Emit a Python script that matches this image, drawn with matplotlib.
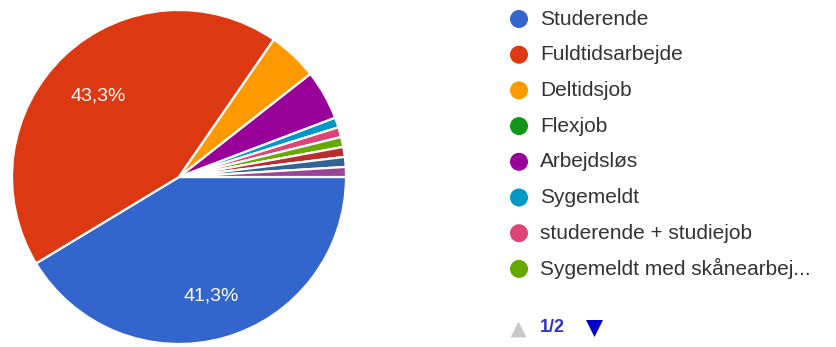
import matplotlib
matplotlib.use("Agg")
import matplotlib.pyplot as plt
from matplotlib.patches import Circle
from matplotlib.transforms import offset_copy

# Survey answers: occupation (response counts)
categories = [
    "Studerende",
    "Fuldtidsarbejde",
    "Deltidsjob",
    "Flexjob",
    "Arbejdsløs",
    "Sygemeldt",
    "studerende + studiejob",
    "Sygemeldt med skånearbej...",
    "Selvstændig",
    "Pensionist",
    "Andet",
]
counts = [43, 45, 5, 0, 5, 1, 1, 1, 1, 1, 1]
colors = [
    "#3366cc", "#dc3912", "#ff9900", "#109618", "#990099",
    "#0099c6", "#dd4477", "#66aa00", "#b82e2e", "#316395", "#994499",
]
legend_page = "1/2"
legend_rows = 8

plt.rcParams["font.family"] = ["Liberation Sans", "DejaVu Sans"]

W, H = 836, 347
fig = plt.figure(figsize=(W / 100, H / 100), dpi=100)

# Pie area
cx, cy, r = 179, 177, 167
ax = fig.add_axes([(cx - r) / W, (H - cy - r) / H, 2 * r / W, 2 * r / H])


def pct_label(p):
    return f"{p:.1f}%".replace(".", ",") if p >= 10 else ""


wedges, _, autotexts = ax.pie(
    counts,
    colors=colors,
    startangle=0,
    counterclock=False,
    radius=1.0,
    autopct=pct_label,
    pctdistance=0.71,
    wedgeprops=dict(edgecolor="white", linewidth=1.6),
    textprops=dict(color="white", fontsize=14),
)
for t in autotexts:
    t.set_transform(offset_copy(t.get_transform(), fig=fig, x=0, y=-5, units="dots"))
ax.set_xlim(-1.0, 1.0)
ax.set_ylim(-1.0, 1.0)
ax.set_aspect("equal")
ax.axis("off")

# Legend drawn in pixel coordinates
lax = fig.add_axes([0, 0, 1, 1])
lax.set_xlim(0, W)
lax.set_ylim(H, 0)
lax.axis("off")

row_y0, row_dy = 19, 35.7
for i in range(legend_rows):
    y = row_y0 + i * row_dy
    lax.add_patch(Circle((519, y), 9, facecolor=colors[i], edgecolor="none"))
    lax.text(540, y, categories[i], fontsize=15, color="#333333",
             va="center", ha="left")

# Page navigation
ny = 328
lax.scatter([518], [ny + 1], marker="^", s=130, color="#c8c8c8", linewidths=0)
lax.text(540, ny, legend_page, fontsize=13, color="#3333bb",
         va="center", ha="left", fontweight="bold")
lax.scatter([594], [ny], marker="v", s=150, color="#0000cc", linewidths=0)

fig.savefig("out.png", dpi=100, facecolor="white")
